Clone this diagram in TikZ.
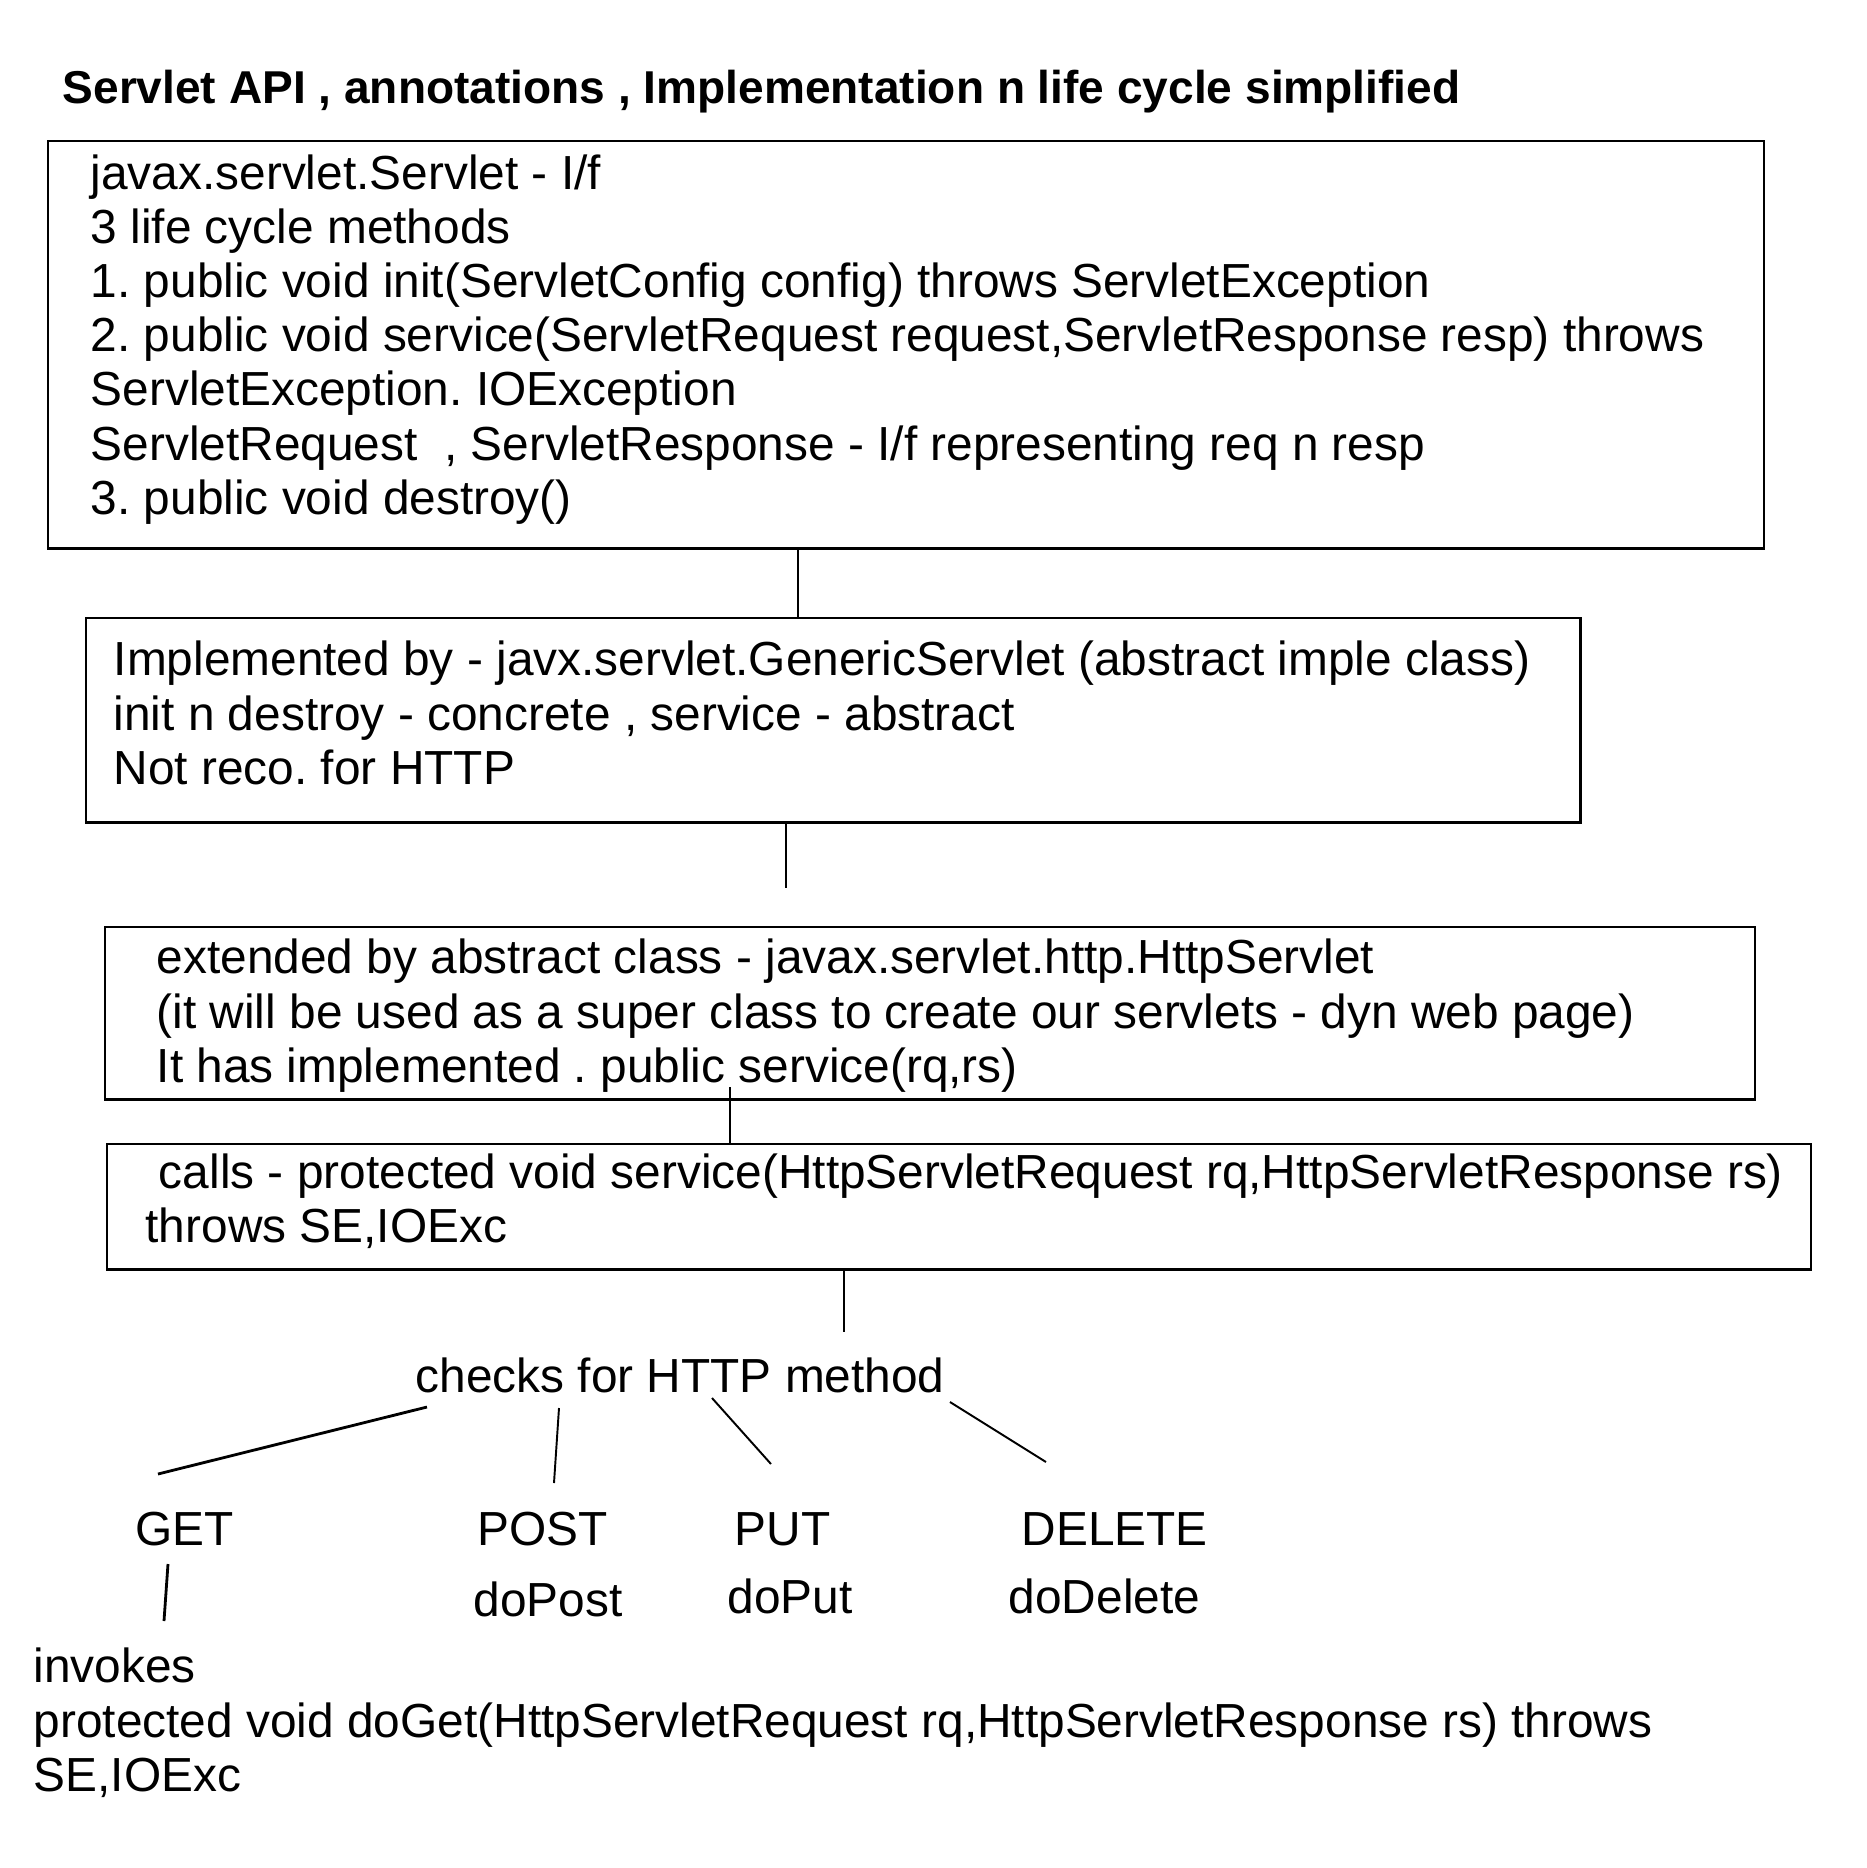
\documentclass[tikz,border=0pt]{standalone}
\usepackage{fontspec}
\setmainfont{Liberation Sans}
\frenchspacing
\tikzset{
  classbox/.style={draw, line width=0.8pt, inner sep=0pt, outer sep=0pt, anchor=north west},
  boxtext/.style={anchor=base west, align=left, inner sep=0pt, font=\fontsize{13.6pt}{15.36pt}\selectfont},
  headtext/.style={anchor=base west, inner sep=0pt, font=\fontsize{13.1pt}{15pt}\selectfont\bfseries},
  link/.style={line width=0.55pt},
  thicklink/.style={line width=0.8pt}
}
\begin{document}
\begin{tikzpicture}[x=0.01cm,y=-0.01cm]
    \useasboundingbox (0,0) rectangle (1867,1868);
    % title
    \node[headtext] (head) at (62,103) {Servlet API , annotations , Implementation n life cycle simplified};
    % the four class boxes (text nodes sit on the baseline of their last line)
    \node[classbox, minimum width=17.15cm, minimum height=4.07cm] (srv) at (48,141) {};
    \node[boxtext] (srvtxt) at (90,514) {javax.servlet.Servlet - I/f\\
        3 life cycle methods\\
        1. public void init(ServletConfig config) throws ServletException\\
        2. public void service(ServletRequest request,ServletResponse resp) throws\\
        ServletException. IOException\\
        ServletRequest\ \ , ServletResponse - I/f representing req n resp\\
        3. public void destroy()};
    \node[classbox, minimum width=14.94cm, minimum height=2.04cm] (gen) at (86,618) {};
    \node[boxtext] (gentxt) at (113,784) {Implemented by - javx.servlet.GenericServlet (abstract imple class)\\
        init n destroy - concrete , service - abstract\\
        Not reco. for HTTP};
    \node[classbox, minimum width=16.49cm, minimum height=1.72cm] (ext) at (105,927) {};
    \node[boxtext] (exttxt) at (156,1082) {extended by abstract class - javax.servlet.http.HttpServlet\\
        (it will be used as a super class to create our servlets - dyn web page)\\
        It has implemented . public service(rq,rs)};
    \node[classbox, minimum width=17.03cm, minimum height=1.25cm] (call) at (107,1144) {};
    \node[boxtext] (calltxt) at (145,1242) {\ calls - protected void service(HttpServletRequest rq,HttpServletResponse rs)\\
        throws SE,IOExc};
    % http methods
    \node[boxtext] (chk) at (415,1392) {checks for HTTP method};
    \node[boxtext] (get) at (135,1545) {GET};
    \node[boxtext] (post) at (477,1545) {POST};
    \node[boxtext] (put) at (734,1545) {PUT};
    \node[boxtext] (del) at (1021,1545) {DELETE};
    \node[boxtext] (dopost) at (473,1616) {doPost};
    \node[boxtext] (doput) at (727,1613) {doPut};
    \node[boxtext] (dodel) at (1008,1613) {doDelete};
    \node[boxtext] (doget) at (33,1791) {invokes\\
        protected void doGet(HttpServletRequest rq,HttpServletResponse rs) throws\\
        SE,IOExc};
    % connectors
    \coordinate (k1) at (798,0);
    \coordinate (k2) at (786,888);
    \coordinate (k3) at (730,1087);
    \coordinate (k4) at (844,1332);
    \draw[link] (srv.south -| k1) -- (gen.north -| k1);
    \draw[link] (gen.south -| k2) -- (k2);
    \draw[link] (k3) -- (k3 |- call.north);
    \draw[link] (call.south -| k4) -- (k4);
    \foreach \xa/\ya/\xb/\yb [count=\i] in {559/1408/554/1483, 712/1398/771/1464, 950/1402/1046/1462}{
        \coordinate (br\i a) at (\xa,\ya);
        \coordinate (br\i b) at (\xb,\yb);
        \draw[link] (br\i a) -- (br\i b);
    }
    \coordinate (g1) at (427,1407);
    \coordinate (g2) at (158,1474);
    \draw[thicklink] (g1) -- (g2);
    \coordinate (g3) at (168,1564);
    \coordinate (g4) at (164,1621);
    \draw[thicklink] (g3) -- (g4);
\end{tikzpicture}
\end{document}
